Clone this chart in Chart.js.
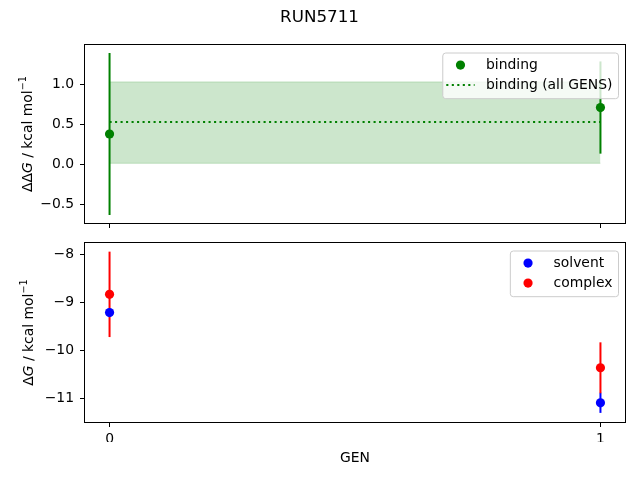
<!DOCTYPE html>
<html>
<head>
<meta charset="utf-8">
<script src="https://cdn.jsdelivr.net/npm/chart.js@4.4.0/dist/chart.umd.min.js"></script>
<style>
  body { margin: 0; background: #fff; }
  canvas { position: absolute; left: 0; top: 0; }
</style>
</head>
<body>
<canvas id="top" width="640" height="480"></canvas>
<canvas id="bottom" width="640" height="480"></canvas>
<script>
// values
const gens = [0, 1];
const genTicks = [0, 1];
const bindingDDG = [0.38, 0.71];
const bindingErr = [1.01, 0.575];
const allGensMean = 0.53;
const allGensBand = [0.015, 1.03];
const solventDG = [-9.21, -11.09];
const solventErr = [0.08, 0.21];
const complexDG = [-8.83, -10.36];
const complexErr = [0.89, 0.53];
const ddgTicks = [-0.5, 0, 0.5, 1.0];
const dgTicks = [-11, -10, -9, -8];

const FONT = 'DejaVu Sans';
Chart.defaults.font.family = FONT;
Chart.defaults.font.size = 13.9;
Chart.defaults.color = '#000';

const minus = s => String(s).replace('-', '\u2212');
const pts = ys => gens.map((g, i) => ({ x: g, y: ys[i] }));
const flat = y => [{ x: gens[0], y: y }, { x: gens[gens.length - 1], y: y }];

// matplotlib-ish bits: error bars, frame, legend, labels
const mpl = {
  id: 'mpl',
  beforeDatasetsDraw(chart) {
    const { ctx, scales: { x, y } } = chart;
    ctx.save();
    ctx.lineWidth = 2;
    chart.data.datasets.forEach(ds => {
      if (!ds.errors) return;
      ctx.strokeStyle = ds.borderColor;
      ds.data.forEach((p, i) => {
        const px = x.getPixelForValue(p.x);
        ctx.beginPath();
        ctx.moveTo(px, y.getPixelForValue(p.y + ds.errors[i]));
        ctx.lineTo(px, y.getPixelForValue(p.y - ds.errors[i]));
        ctx.stroke();
      });
    });
    ctx.restore();
  },
  afterDraw(chart, args, opts) {
    const { ctx, chartArea: a } = chart;
    ctx.save();
    // frame
    ctx.strokeStyle = '#000';
    ctx.lineWidth = 1;
    ctx.strokeRect(a.left - 0.5, a.top - 0.5, a.right - a.left + 1, a.bottom - a.top + 1);

    // legend
    const items = chart.data.datasets.filter(d => d.legendKind);
    ctx.font = '13.9px "' + FONT + '"';
    const tw = Math.max(...items.map(d => ctx.measureText(d.label).width));
    const right = a.right - 7, top = a.top + 7.5;
    const left = right - (4 + 28.3 + 11.4 + tw + 5.6);
    const h = 45.7;
    ctx.beginPath();
    ctx.roundRect(left + 0.5, top + 0.5, right - left, h, 3);
    ctx.fillStyle = 'rgba(255,255,255,0.8)';
    ctx.fill();
    ctx.strokeStyle = '#cccccc';
    ctx.stroke();
    items.forEach((d, i) => {
      const cy = top + 12.6 + i * 20;
      const hx = left + 4;
      if (d.legendKind === 'marker') {
        ctx.beginPath();
        ctx.arc(hx + 14.2, cy, 4.6, 0, Math.PI * 2);
        ctx.fillStyle = d.backgroundColor;
        ctx.fill();
      } else {
        ctx.beginPath();
        ctx.setLineDash(d.borderDash || []);
        ctx.lineWidth = d.borderWidth;
        ctx.strokeStyle = d.borderColor;
        ctx.moveTo(hx, cy);
        ctx.lineTo(hx + 28.3, cy);
        ctx.stroke();
        ctx.setLineDash([]);
      }
      ctx.fillStyle = '#000';
      ctx.textBaseline = 'middle';
      ctx.textAlign = 'left';
      ctx.fillText(d.label, hx + 28.3 + 11.4, cy);
    });

    // y label, mathtext-like
    if (opts.ylabel) {
      ctx.save();
      ctx.translate(opts.ylabelX, (a.top + a.bottom) / 2);
      ctx.rotate(-Math.PI / 2);
      ctx.textBaseline = 'alphabetic';
      ctx.textAlign = 'left';
      const fontOf = p => (p.it ? 'italic ' : '') + (p.sup ? '9.7px' : '13.9px') + ' "' + FONT + '"';
      let total = 0;
      opts.ylabel.forEach(p => { ctx.font = fontOf(p); total += ctx.measureText(p.t).width; });
      let cx = -total / 2;
      opts.ylabel.forEach(p => {
        ctx.font = fontOf(p);
        ctx.fillText(p.t, cx, p.sup ? -6 : 0);
        cx += ctx.measureText(p.t).width;
      });
      ctx.restore();
    }
    ctx.textAlign = 'center';
    ctx.textBaseline = 'alphabetic';
    ctx.fillStyle = '#000';
    if (opts.title) {
      ctx.font = '16.7px "' + FONT + '"';
      ctx.fillText(opts.title, 319.5, 21.7);
    }
    if (opts.xlabel) {
      ctx.font = '13.9px "' + FONT + '"';
      ctx.fillText(opts.xlabel, (a.left + a.right) / 2, 462.4);
    }
    ctx.restore();
  }
};

function xAxis(showLabels) {
  return {
    type: 'linear', min: -0.05, max: 1.05,
    afterBuildTicks: s => { s.ticks = genTicks.map(v => ({ value: v })); },
    afterFit: s => { s.height = 20; },
    ticks: { padding: 4, callback: v => showLabels ? minus(v) : '' },
    grid: { display: true, drawOnChartArea: false, drawTicks: true, tickLength: 5, tickWidth: 1, tickColor: '#000' },
    border: { display: false }
  };
}

function yAxis(min, max, tickVals, fmt) {
  return {
    type: 'linear', min: min, max: max,
    afterBuildTicks: s => { s.ticks = tickVals.map(v => ({ value: v })); },
    afterFit: s => { s.width = 85; },
    ticks: { padding: 6, callback: v => fmt(v) },
    grid: { display: true, drawOnChartArea: false, drawTicks: true, tickLength: 5, tickWidth: 1, tickColor: '#000' },
    border: { display: false }
  };
}

new Chart(document.getElementById('top'), {
  type: 'scatter',
  data: {
    datasets: [
      { label: 'binding', legendKind: 'marker', data: pts(bindingDDG), errors: bindingErr,
        backgroundColor: 'green', borderColor: 'green', pointRadius: 4.6, pointBorderWidth: 0, order: 0 },
      { label: 'binding (all GENS)', legendKind: 'line', type: 'line', showLine: true, data: flat(allGensMean),
        borderColor: 'green', borderWidth: 2, borderDash: [2.1, 3.4], pointRadius: 0, fill: false, order: 1 },
      { label: 'band low', type: 'line', showLine: true, data: flat(allGensBand[0]),
        borderColor: 'rgba(0,128,0,0.2)', borderWidth: 1, pointRadius: 0, fill: false, order: 2 },
      { label: 'band high', type: 'line', showLine: true, data: flat(allGensBand[1]),
        borderColor: 'rgba(0,128,0,0.2)', backgroundColor: 'rgba(0,128,0,0.2)', borderWidth: 1,
        pointRadius: 0, fill: '-1', order: 3 }
    ]
  },
  options: {
    responsive: false,
    animation: false,
    events: [],
    layout: { padding: { left: 0, right: 15, top: 45, bottom: 237 } },
    scales: {
      x: xAxis(false),
      y: yAxis(-0.73, 1.49, ddgTicks, v => minus(v.toFixed(1)))
    },
    plugins: {
      legend: { display: false },
      tooltip: { enabled: false },
      filler: { drawTime: 'beforeDatasetsDraw' },
      mpl: {
        title: 'RUN5711',
        ylabelX: 31.7,
        ylabel: [{ t: '\u0394\u0394' }, { t: 'G', it: true }, { t: ' / kcal mol' }, { t: '\u22121', sup: true }]
      }
    }
  },
  plugins: [mpl]
});

new Chart(document.getElementById('bottom'), {
  type: 'scatter',
  data: {
    datasets: [
      { label: 'solvent', legendKind: 'marker', data: pts(solventDG), errors: solventErr,
        backgroundColor: 'blue', borderColor: 'blue', pointRadius: 4.6, pointBorderWidth: 0, order: 2 },
      { label: 'complex', legendKind: 'marker', data: pts(complexDG), errors: complexErr,
        backgroundColor: 'red', borderColor: 'red', pointRadius: 4.6, pointBorderWidth: 0, order: 1 }
    ]
  },
  options: {
    responsive: false,
    animation: false,
    events: [],
    layout: { padding: { left: 0, right: 15, top: 243, bottom: 38 } },
    scales: {
      x: xAxis(true),
      y: yAxis(-11.49, -7.76, dgTicks, v => minus(v))
    },
    plugins: {
      legend: { display: false },
      tooltip: { enabled: false },
      mpl: {
        xlabel: 'GEN',
        ylabelX: 33.3,
        ylabel: [{ t: '\u0394' }, { t: 'G', it: true }, { t: ' / kcal mol' }, { t: '\u22121', sup: true }]
      }
    }
  },
  plugins: [mpl]
});
</script>
</body>
</html>
